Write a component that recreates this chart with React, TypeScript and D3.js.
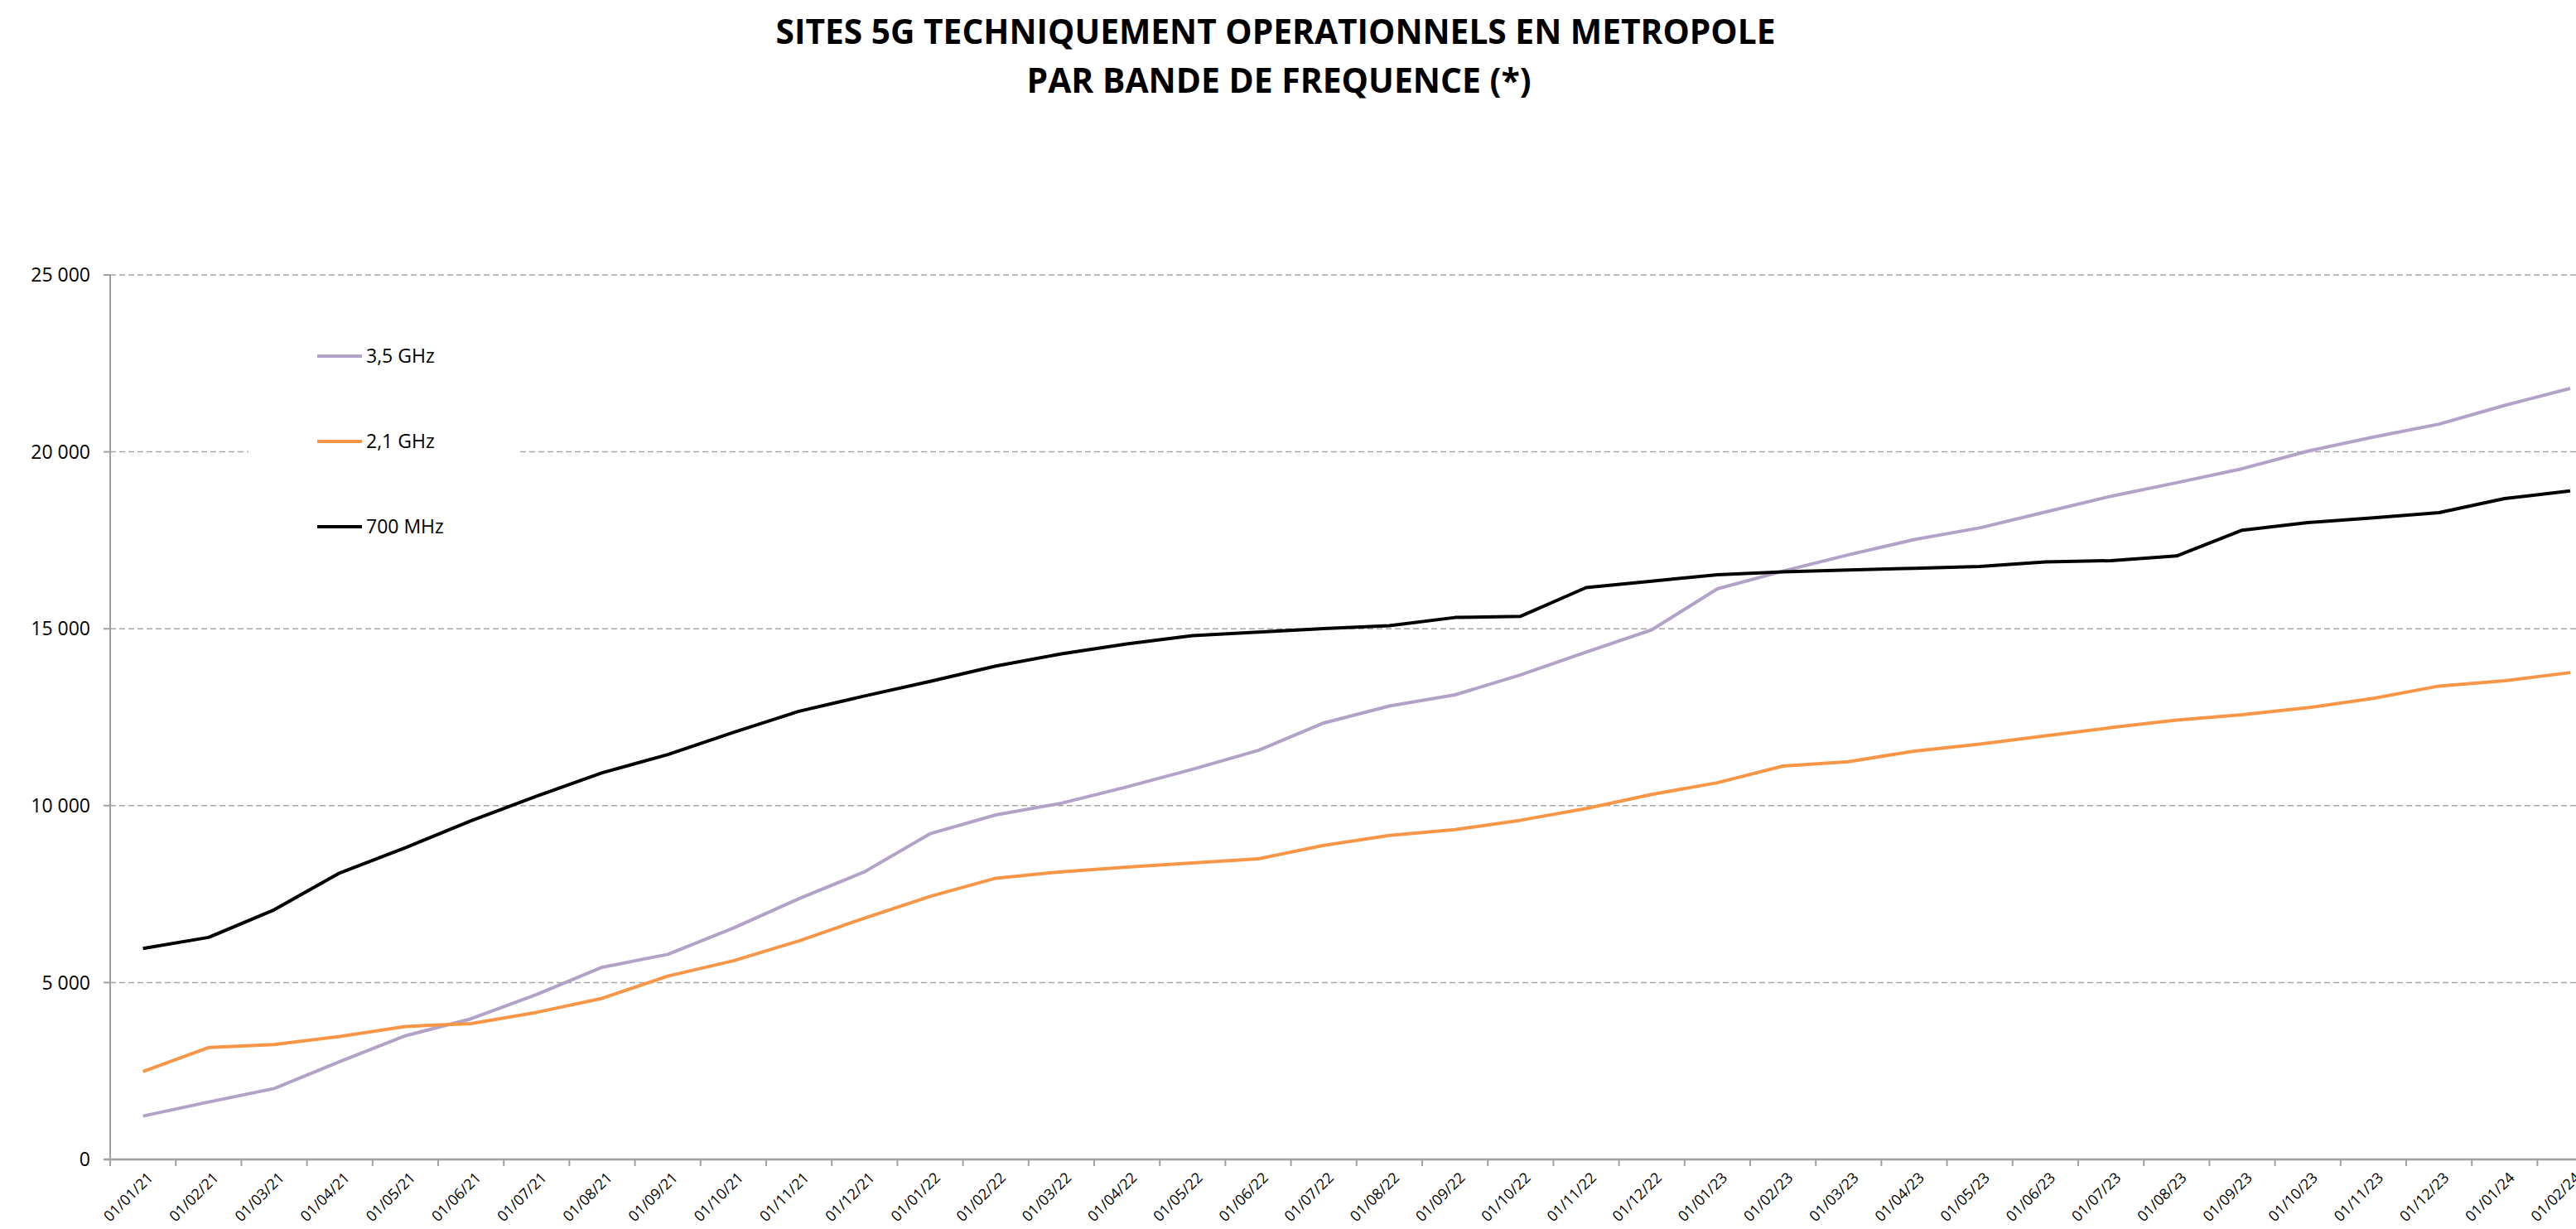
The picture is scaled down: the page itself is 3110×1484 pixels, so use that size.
import React from "react";
import * as d3 from "d3";

const categories: string[] = [
  "01/01/21","01/02/21","01/03/21","01/04/21","01/05/21","01/06/21","01/07/21","01/08/21","01/09/21","01/10/21","01/11/21","01/12/21",
  "01/01/22","01/02/22","01/03/22","01/04/22","01/05/22","01/06/22","01/07/22","01/08/22","01/09/22","01/10/22","01/11/22","01/12/22",
  "01/01/23","01/02/23","01/03/23","01/04/23","01/05/23","01/06/23","01/07/23","01/08/23","01/09/23","01/10/23","01/11/23","01/12/23",
  "01/01/24","01/02/24",
];

const ghz35: number[] = [
  1225, 1623, 2004, 2766, 3494, 3974, 4660, 5432, 5796, 6541, 7369, 8131,
  9207, 9737, 10068, 10532, 11029, 11559, 12337, 12817, 13132, 13695, 14341, 14970,
  16129, 16630, 17090, 17520, 17852, 18299, 18746, 19127, 19524, 20021, 20418, 20783,
  21313, 21793,
];

const ghz21: number[] = [
  2484, 3163, 3246, 3478, 3759, 3840, 4157, 4554, 5183, 5614, 6177, 6823,
  7435, 7949, 8131, 8263, 8379, 8495, 8876, 9158, 9323, 9588, 9919, 10317,
  10648, 11120, 11244, 11542, 11741, 11973, 12205, 12420, 12569, 12768, 13033, 13380,
  13530, 13761,
];

const mhz700: number[] = [
  5962, 6276, 7055, 8098, 8810, 9572, 10270, 10930, 11443, 12072, 12668, 13100,
  13513, 13944, 14291, 14573, 14805, 14904, 15003, 15086, 15318, 15351, 16163, 16345,
  16527, 16610, 16659, 16709, 16759, 16891, 16924, 17057, 17785, 18001, 18134, 18282,
  18680, 18895,
];

const yTicks: number[] = [0, 5000, 10000, 15000, 20000, 25000];
const titleLines: string[] = [
  "SITES 5G TECHNIQUEMENT OPERATIONNELS EN METROPOLE",
  "PAR BANDE DE FREQUENCE (*)",
];

const series = [
  { name: "3,5 GHz", values: ghz35, color: "#b3a2c7" },
  { name: "2,1 GHz", values: ghz21, color: "#f79646" },
  { name: "700 MHz", values: mhz700, color: "#000000" },
];

const W = 3110;
const H = 1484;
const FONT = "'Open Sans', 'DejaVu Sans', sans-serif";

export default function App() {
  const x0 = 133;
  const band = 79.2;
  const x = d3
    .scaleBand<string>()
    .domain(categories)
    .range([x0, x0 + band * categories.length]);
  const y = d3.scaleLinear().domain([0, 25000]).range([1400, 332]);
  const fmt = (v: number) => d3.format(",")(v).replace(/,/g, " ");

  const line = d3
    .line<number>()
    .x((_, i) => (x(categories[i]) as number) + x.bandwidth() / 2)
    .y((v) => y(v));

  const axisColor = "#a0a0a0";

  return (
    <svg
      width={W}
      height={H}
      style={{ position: "absolute", left: 0, top: 0, background: "#fff" }}
      fontFamily={FONT}
    >
      <rect x={0} y={0} width={W} height={H} fill="#fff" />
      {/* Title */}
      <text
        x={1540}
        y={53}
        textAnchor="middle"
        fontSize={42}
        fontWeight="bold"
        textLength={1207}
        lengthAdjust="spacingAndGlyphs"
      >
        {titleLines[0]}
      </text>
      <text
        x={1544}
        y={112}
        textAnchor="middle"
        fontSize={42}
        fontWeight="bold"
        textLength={609}
        lengthAdjust="spacingAndGlyphs"
      >
        {titleLines[1]}
      </text>

      {/* Gridlines */}
      {yTicks
        .filter((t) => t > 0)
        .map((t) => (
          <line
            key={"g" + t}
            x1={x0}
            x2={W}
            y1={y(t)}
            y2={y(t)}
            stroke="#a6a6a6"
            strokeWidth={1.5}
            strokeDasharray="7,4"
          />
        ))}

      {/* Legend background */}
      <rect x={300} y={395} width={325} height={280} fill="#fff" />

      {/* Y axis */}
      <line x1={x0} x2={x0} y1={y(25000)} y2={y(0)} stroke={axisColor} strokeWidth={2} />
      {yTicks.map((t) => (
        <g key={"yt" + t}>
          <line x1={x0 - 8} x2={x0} y1={y(t)} y2={y(t)} stroke={axisColor} strokeWidth={2} />
          <text x={109} y={y(t)} dy="0.36em" textAnchor="end" fontSize={23} fill="#000">
            {fmt(t)}
          </text>
        </g>
      ))}

      {/* X axis */}
      <line x1={x0 - 8} x2={W} y1={y(0)} y2={y(0)} stroke={axisColor} strokeWidth={2.5} />
      {categories.map((c) => (
        <line
          key={"xt" + c}
          x1={x(c) as number}
          x2={x(c) as number}
          y1={y(0)}
          y2={y(0) + 8}
          stroke={axisColor}
          strokeWidth={2}
        />
      ))}
      {categories.map((c) => {
        const cx = (x(c) as number) + x.bandwidth() / 2 + 4;
        return (
          <text
            key={"xl" + c}
            transform={`translate(${cx},1414) rotate(-45)`}
            textAnchor="end"
            dy="0.72em"
            fontSize={18}
            fill="#000"
          >
            {c}
          </text>
        );
      })}

      {/* Lines */}
      {series.map((s) => (
        <path
          key={s.name}
          d={line(s.values) || ""}
          fill="none"
          stroke={s.color}
          strokeWidth={4}
          strokeLinejoin="round"
        />
      ))}

      {/* Legend */}
      {series.map((s, i) => {
        const ly = 430 + i * 103;
        return (
          <g key={"lg" + s.name}>
            <line x1={383} x2={437} y1={ly} y2={ly} stroke={s.color} strokeWidth={4} />
            <text x={442} y={ly} dy="0.36em" fontSize={23} fill="#000">
              {s.name}
            </text>
          </g>
        );
      })}
    </svg>
  );
}
